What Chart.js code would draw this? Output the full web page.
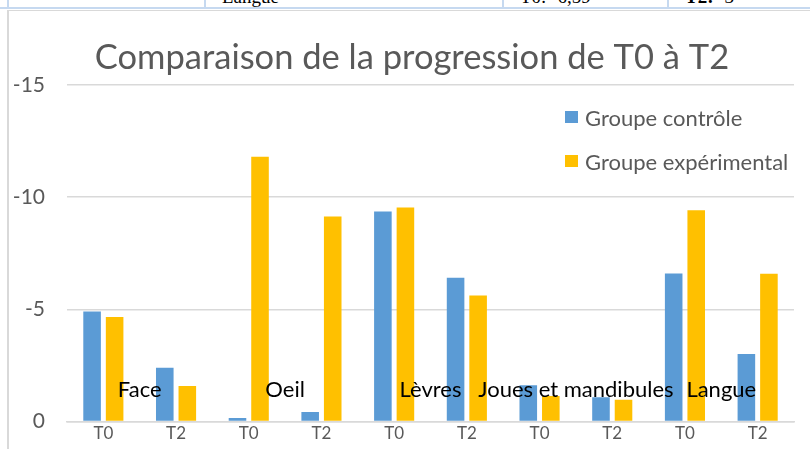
<!DOCTYPE html>
<html lang="fr">
<head>
<meta charset="utf-8">
<title>Comparaison de la progression de T0 à T2</title>
<script src="https://cdn.jsdelivr.net/npm/chart.js@4.4.1/dist/chart.umd.min.js"></script>
<style>
  html, body { margin: 0; padding: 0; background: #fff; }
  body { width: 810px; height: 449px; position: relative; overflow: hidden; font-family: Lato, sans-serif; }
  #chart { position: absolute; left: 0; top: 7px; }
  .table-row { position: absolute; left: 0; top: 0; width: 810px; height: 7px; border-bottom: 2px solid #c6d9f0; overflow: hidden; }
  .cell { position: absolute; top: 0; height: 7px; border-left: 2px solid #c6d9f0; font-family: "Liberation Serif", serif; font-size: 19px; color: #000; }
  .cell span { position: absolute; left: 16px; top: -14px; white-space: nowrap; }
  .frame { position: absolute; left: 7px; top: 10px; width: 810px; height: 450px; border-left: 2px solid #d9d9d9; border-top: 1px solid #d9d9d9; }
  #legend { position: absolute; left: 565px; top: 104px; }
  .leg-item { display: flex; align-items: center; height: 26px; margin-bottom: 18px; font-size: 22px; color: #595959; white-space: nowrap; }
  .leg-box { width: 13px; height: 12px; margin-right: 7px; }
</style>
</head>
<body>
<div class="table-row">
  <div class="cell" style="left:7px"></div>
  <div class="cell" style="left:204px"><span>Langue</span></div>
  <div class="cell" style="left:502px"><span>T0: -6,59</span></div>
  <div class="cell" style="left:667px"><span><b>T2:</b> -3</span></div>
</div>
<div class="frame"></div>
<canvas id="chart" width="810" height="449"></canvas>
<div id="legend"></div>
<script>
// Données
const titleText = "Comparaison de la progression de T0 à T2"
const categories = ["T0", "T2", "T0", "T2", "T0", "T2", "T0", "T2", "T0", "T2"]
const groups = ["Face", "Oeil", "Lèvres", "Joues et mandibules", "Langue"]
const controle = [-4.9, -2.39, -0.15, -0.42, -9.36, -6.4, -1.61, -1.08, -6.59, -3]
const experimental = [-4.66, -1.58, -11.8, -9.14, -9.54, -5.61, -1.13, -0.97, -9.42, -6.58]
const yTicks = [0, -5, -10, -15]

const grey = "#595959"

// Titre centré sur le cadre (et non sur la zone du graphique)
const chartTitle = {
  id: "chartTitle",
  afterDraw(chart) {
    const ctx = chart.ctx
    ctx.save()
    ctx.font = "34.5px Lato"
    ctx.fillStyle = grey
    ctx.textAlign = "center"
    ctx.textBaseline = "middle"
    ctx.fillText(titleText, 412, 51)
    ctx.restore()
  },
}

// Noms des groupes dessinés dans la zone du graphique
const groupLabels = {
  id: "groupLabels",
  afterDatasetsDraw(chart) {
    const ctx = chart.ctx
    const x = chart.scales.x
    ctx.save()
    ctx.font = "22px Lato"
    ctx.fillStyle = "#000"
    ctx.textAlign = "center"
    ctx.textBaseline = "middle"
    groups.forEach((name, i) => {
      const cx = (x.getPixelForValue(2 * i) + x.getPixelForValue(2 * i + 1)) / 2
      ctx.fillText(name, cx, chart.chartArea.bottom - 31)
    })
    ctx.restore()
  },
}

const chart = new Chart(document.getElementById("chart"), {
  type: "bar",
  data: {
    labels: categories,
    datasets: [
      { label: "Groupe contrôle", data: controle, backgroundColor: "#5b9bd5" },
      { label: "Groupe expérimental", data: experimental, backgroundColor: "#ffc000" },
    ],
  },
  options: {
    responsive: false,
    animation: false,
    categoryPercentage: 0.62,
    barPercentage: 0.78,
    layout: { padding: { left: 0, right: 16, top: 78, bottom: 0 } },
    plugins: {
      legend: { display: false },
      tooltip: { enabled: false },
      title: { display: false },
    },
    scales: {
      x: {
        grid: { display: false, drawTicks: false },
        border: { display: true, color: "#d9d9d9", width: 1.5 },
        ticks: { color: grey, font: { family: "Lato", size: 17 }, padding: 2, maxRotation: 0 },
        afterFit: (scale) => { scale.height = 21 },
      },
      y: {
        reverse: true,
        min: -15,
        max: 0,
        afterBuildTicks: (scale) => { scale.ticks = yTicks.map((v) => ({ value: v })) },
        grid: { color: "#d9d9d9", lineWidth: 1.5, drawTicks: false },
        border: { display: false },
        ticks: { color: grey, font: { family: "Lato", size: 21 }, padding: 22 },
        afterFit: (scale) => { scale.width = 67 },
      },
    },
  },
  plugins: [groupLabels, chartTitle],
})

// Légende HTML à partir des jeux de données
const legend = document.getElementById("legend")
chart.data.datasets.forEach((ds) => {
  const item = document.createElement("div")
  item.className = "leg-item"
  item.innerHTML = `<span class="leg-box" style="background:${ds.backgroundColor}"></span>${ds.label}`
  legend.appendChild(item)
})
</script>
</body>
</html>
